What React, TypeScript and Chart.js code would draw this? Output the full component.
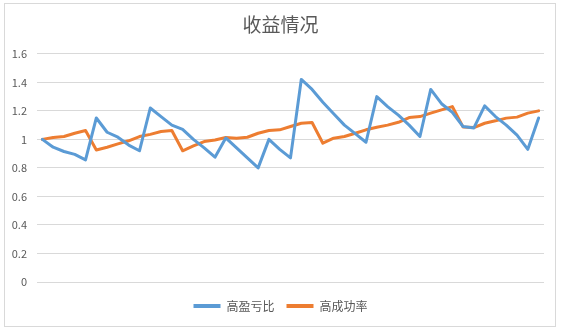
import React, { useEffect, useRef } from "react";
import { Chart, registerables } from "chart.js";

Chart.register(...registerables);

const chartTitle = "收益情况";
const seriesNames = ["高盈亏比", "高成功率"];
const categories = [
  "1", "2", "3", "4", "5", "6", "7", "8", "9", "10",
  "11", "12", "13", "14", "15", "16", "17", "18", "19", "20",
  "21", "22", "23", "24", "25", "26", "27", "28", "29", "30",
  "31", "32", "33", "34", "35", "36", "37", "38", "39", "40",
  "41", "42", "43", "44", "45", "46", "47",
];
const highRatio = [
  1.0, 0.945, 0.915, 0.895, 0.856, 1.15, 1.05, 1.015, 0.96, 0.92,
  1.22, 1.16, 1.1, 1.07, 1.0, 0.94, 0.875, 1.01, 0.94, 0.87,
  0.8, 1.0, 0.93, 0.87, 1.42, 1.35, 1.26, 1.18, 1.1, 1.04,
  0.98, 1.3, 1.23, 1.17, 1.1, 1.02, 1.35, 1.25, 1.19, 1.09,
  1.08, 1.235, 1.16, 1.1, 1.03, 0.93, 1.15,
];
const highWinRate = [
  1.0, 1.013, 1.02, 1.043, 1.062, 0.926, 0.945, 0.968, 0.99, 1.02,
  1.035, 1.055, 1.062, 0.92, 0.954, 0.985, 0.996, 1.013, 1.008, 1.015,
  1.043, 1.062, 1.067, 1.09, 1.113, 1.118, 0.973, 1.008, 1.02, 1.043,
  1.067, 1.085, 1.1, 1.12, 1.153, 1.16, 1.184, 1.207, 1.23, 1.086,
  1.083, 1.113, 1.13, 1.149, 1.156, 1.184, 1.2,
];
const yTickLabels = ["0", "0.2", "0.4", "0.6", "0.8", "1", "1.2", "1.4", "1.6"];
const seriesColors = ["#5B9BD5", "#ED7D31"];

const FONT = "'Noto Sans CJK SC', 'Microsoft YaHei', sans-serif";
const TEXT = "#595959";

export default function App() {
  const ref = useRef<HTMLCanvasElement | null>(null);

  useEffect(() => {
    if (!ref.current) return;
    const chart = new Chart(ref.current, {
      type: "line",
      data: {
        labels: categories,
        datasets: [
          {
            label: seriesNames[0],
            data: highRatio,
            borderColor: seriesColors[0],
            backgroundColor: seriesColors[0],
            borderWidth: 3,
            pointRadius: 0,
            tension: 0,
            borderJoinStyle: "round",
            borderCapStyle: "round",
          },
          {
            label: seriesNames[1],
            data: highWinRate,
            borderColor: seriesColors[1],
            backgroundColor: seriesColors[1],
            borderWidth: 3,
            pointRadius: 0,
            tension: 0,
            borderJoinStyle: "round",
            borderCapStyle: "round",
          },
        ],
      },
      options: {
        responsive: false,
        animation: false,
        events: [],
        layout: { padding: { left: 8, right: 8, top: 0, bottom: 7 } },
        scales: {
          x: {
            display: false,
            offset: true,
          },
          y: {
            min: 0,
            max: 1.6,
            afterFit: (scale: any) => {
              scale.width = 29;
            },
            ticks: {
              stepSize: 0.2,
              padding: 10,
              color: TEXT,
              font: { family: FONT, size: 11 },
              callback: (v: any) => yTickLabels[Math.round(Number(v) / 0.2)],
            },
            grid: { color: "#d9d9d9", drawTicks: false, lineWidth: 1 },
            border: { display: false },
          },
          yPad: {
            position: "right",
            display: true,
            afterFit: (scale: any) => {
              scale.width = 9;
            },
            ticks: { display: false },
            grid: { display: false, drawTicks: false },
            border: { display: false },
          },
        },
        plugins: {
          title: {
            display: true,
            text: chartTitle,
            color: TEXT,
            font: { family: FONT, size: 19, weight: "normal" },
            padding: { top: 13, bottom: 18 },
          },
          legend: {
            display: true,
            position: "bottom",
            title: {
              display: true,
              text: "",
              font: { family: FONT, size: 6, lineHeight: 1 },
              padding: 0,
            },
            labels: {
              color: TEXT,
              font: { family: FONT, size: 12 },
              boxWidth: 27,
              boxHeight: 4,
              padding: 12,
              generateLabels: (c: any) =>
                (Chart.defaults.plugins.legend.labels as any)
                  .generateLabels(c)
                  .map((l: any) => ({ ...l, lineWidth: 0 })),
            },
          },
          tooltip: { enabled: false },
        },
      },
    });
    return () => chart.destroy();
  }, []);

  return (
    <div
      style={{
        position: "fixed",
        left: 0,
        top: 0,
        width: 561,
        height: 329,
        background: "#fff",
        overflow: "hidden",
      }}
    >
      <div
        style={{
          position: "absolute",
          left: 4,
          top: 3,
          width: 550,
          height: 322,
          border: "1px solid #d9d9d9",
        }}
      />
      <canvas
        ref={ref}
        width={561}
        height={329}
        style={{ position: "absolute", left: 0, top: 0, width: 561, height: 329 }}
      />
    </div>
  );
}
